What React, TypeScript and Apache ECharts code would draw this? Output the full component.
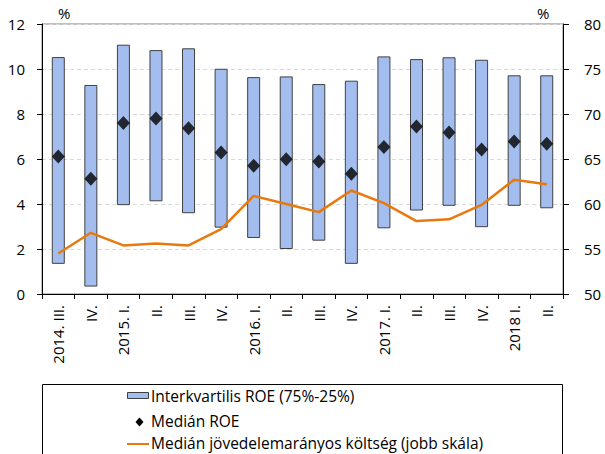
import React, { useEffect, useRef } from "react";
import * as echarts from "echarts";

const categories = ["2014. III.", "IV.", "2015. I.", "II.", "III.", "IV.", "2016. I.", "II.", "III.", "IV.", "2017. I.", "II.", "III.", "IV.", "2018 I.", "II."];
const roeQ25 = [1.34, 0.33, 3.95, 4.12, 3.59, 2.95, 2.49, 2.0, 2.37, 1.34, 2.92, 3.71, 3.92, 2.97, 3.92, 3.81];
const roeQ75 = [10.53, 9.29, 11.08, 10.84, 10.92, 10.01, 9.64, 9.67, 9.33, 9.48, 10.56, 10.44, 10.52, 10.41, 9.72, 9.72];
const roeMedian = [6.11, 5.12, 7.6, 7.8, 7.37, 6.29, 5.7, 5.99, 5.89, 5.35, 6.53, 7.45, 7.18, 6.42, 6.78, 6.68];
const costMedian = [54.5, 56.8, 55.4, 55.6, 55.4, 57.2, 60.9, 60.0, 59.1, 61.5, 60.1, 58.1, 58.3, 59.9, 62.7, 62.2];
const leftTicks = { min: 0, max: 12, interval: 2 };
const rightTicks = { min: 50, max: 80, interval: 5 };

const FONT = "'Open Sans', Lato, sans-serif";
const NAME_IQR = "Interkvartilis ROE (75%-25%)";
const NAME_MED = "Medián ROE";
const NAME_COST = "Medián jövedelemarányos költség (jobb skála)";
const BAR_COLOR = "#a3bdee";
const LINE_COLOR = "#e8790f";
const AX_FS = 15;
const LG_FS = 15.5;

export default function App() {
  const ref = useRef<HTMLDivElement>(null);
  useEffect(() => {
    const chart = echarts.init(ref.current!, null, { renderer: "svg" });
    const legendText = (text: string, y: number) => ({
      type: "text",
      x: 151,
      y,
      style: { text, fontSize: LG_FS, fontFamily: FONT, fill: "#000", verticalAlign: "middle" },
      silent: true,
    });
    chart.setOption({
      animation: false,
      textStyle: { fontFamily: FONT, color: "#000" },
      grid: { left: 42, right: 42, top: 24, bottom: 160, show: true, borderColor: "#808080", borderWidth: 1 },
      xAxis: {
        type: "category",
        data: categories,
        boundaryGap: true,
        axisLine: { lineStyle: { color: "#000", width: 1 } },
        axisTick: { show: true, interval: 0, length: 5, lineStyle: { color: "#000" } },
        axisLabel: { rotate: 90, interval: 0, color: "#000", fontSize: AX_FS, fontFamily: FONT, margin: 11 },
      },
      yAxis: [
        {
          type: "value",
          ...leftTicks,
          axisLine: { show: true, lineStyle: { color: "#000" } },
          axisTick: { show: true, length: 5, lineStyle: { color: "#000" } },
          axisLabel: { color: "#000", fontSize: AX_FS, fontFamily: FONT, margin: 17 },
          splitLine: { show: true, lineStyle: { color: "#d9d9d9", type: [4, 3] } },
        },
        {
          type: "value",
          ...rightTicks,
          axisLine: { show: true, lineStyle: { color: "#000" } },
          axisTick: { show: true, length: 6, lineStyle: { color: "#000" } },
          axisLabel: { color: "#000", fontSize: AX_FS, fontFamily: FONT, margin: 21 },
          splitLine: { show: false },
        },
      ],
      legend: { show: false, data: [NAME_IQR, NAME_MED, NAME_COST] },
      graphic: [
        { type: "rect", shape: { x: 42.5, y: 384.5, width: 520, height: 80 }, style: { fill: "none", stroke: "#000", lineWidth: 1 }, silent: true },
        { type: "text", x: 58, y: 13, style: { text: "%", fontSize: AX_FS, fontFamily: FONT, fill: "#000", verticalAlign: "middle" } },
        { type: "text", x: 537, y: 13, style: { text: "%", fontSize: AX_FS, fontFamily: FONT, fill: "#000", verticalAlign: "middle" } },
        { type: "rect", shape: { x: 127.5, y: 392.5, width: 21, height: 6 }, style: { fill: BAR_COLOR, stroke: "#404040", lineWidth: 1 }, silent: true },
        { type: "polygon", shape: { points: [[139.5, 417.5], [143.5, 422], [139.5, 426.5], [135.5, 422]] }, style: { fill: "#000" }, silent: true },
        { type: "line", shape: { x1: 127, y1: 444, x2: 149, y2: 444 }, style: { stroke: LINE_COLOR, lineWidth: 2 }, silent: true },
        legendText(NAME_IQR, 396),
        legendText(NAME_MED, 421),
        legendText(NAME_COST, 443),
      ],
      series: [
        {
          name: "base",
          type: "bar",
          stack: "iqr",
          data: roeQ25,
          barWidth: 13,
          itemStyle: { color: "transparent" },
          silent: true,
        },
        {
          name: NAME_IQR,
          type: "bar",
          stack: "iqr",
          data: roeQ75.map((v, i) => +(v - roeQ25[i]).toFixed(2)),
          barWidth: 13,
          itemStyle: { color: BAR_COLOR, borderColor: "#404040", borderWidth: 1 },
        },
        {
          name: NAME_MED,
          type: "scatter",
          data: roeMedian,
          symbol: "diamond",
          symbolSize: [13, 14],
          itemStyle: { color: "#000" },
          z: 5,
        },
        {
          name: NAME_COST,
          type: "line",
          yAxisIndex: 1,
          data: costMedian,
          symbol: "none",
          lineStyle: { color: LINE_COLOR, width: 2.5 },
          itemStyle: { color: LINE_COLOR },
          z: 4,
        },
      ],
    });
    return () => chart.dispose();
  }, []);
  return <div ref={ref} style={{ width: 605, height: 454, position: "absolute", left: 0, top: 0 }} />;
}
